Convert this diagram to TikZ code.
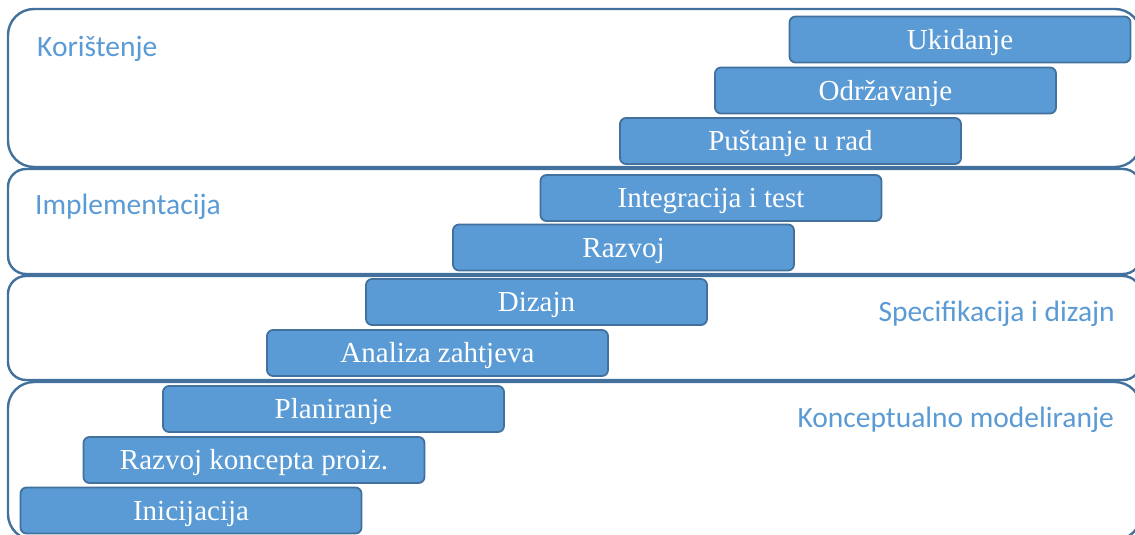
\documentclass[tikz,border=0pt]{standalone}
\usepackage{fontspec}
\setmainfont{Liberation Serif}
\newfontfamily\phasefont{Carlito}
\definecolor{boxfill}{HTML}{5B9BD5}
\definecolor{boxline}{HTML}{41719C}
\definecolor{phasetext}{HTML}{5B9BD5}
\tikzset{
  panel/.style={draw=boxline, line width=2.4pt, fill=white},
  activity/.style={draw=boxline, line width=1.8pt, fill=boxfill, rounded corners=6pt,
    minimum width=341pt, minimum height=46pt, inner sep=0pt,
    text=white, text height=19pt, text depth=0pt,
    font=\fontsize{29}{34}\selectfont},
  phase/.style={text=phasetext, inner sep=0pt, font=\phasefont\fontsize{29.5}{34}\selectfont}
}
\begin{document}
\begin{tikzpicture}[x=1pt, y=-1pt]
\clip (0,0) rectangle (1135,535);
\fill[white] (0,0) rectangle (1135,535);

% phase panels
\draw[panel, rounded corners=26pt] (8,9) rectangle (1141,167);
\draw[panel, rounded corners=18pt] (8,169) rectangle (1141,274);
\draw[panel, rounded corners=18pt] (8,276) rectangle (1141,380);
\draw[panel, rounded corners=26pt] (8,382) rectangle (1141,540);

% phase names
\node[phase, anchor=base west] (pKor) at (37,57) {Korištenje};
\node[phase, anchor=base west] (pImp) at (35,214) {Implementacija};
\node[phase, anchor=base east] (pSpe) at (1115,321) {Specifikacija i dizajn};
\node[phase, anchor=base east] (pKon) at (1114,427) {Konceptualno modeliranje};

% activities
\node[activity] (uki) at (960,39.5) {Ukidanje};
\node[activity] (odr) at (885.5,90.5) {Održavanje};
\node[activity] (pus) at (790.5,141) {Puštanje u rad};
\node[activity] (int) at (711,198) {Integracija i test};
\node[activity] (raz) at (623.5,247.5) {Razvoj};
\node[activity] (diz) at (536.5,302) {Dizajn};
\node[activity] (ana) at (437.5,353) {Analiza zahtjeva};
\node[activity] (pla) at (333.5,409) {Planiranje};
\node[activity] (kon) at (254,460) {Razvoj koncepta proiz.};
\node[activity] (ini) at (191,510.5) {Inicijacija};
\end{tikzpicture}
\end{document}
